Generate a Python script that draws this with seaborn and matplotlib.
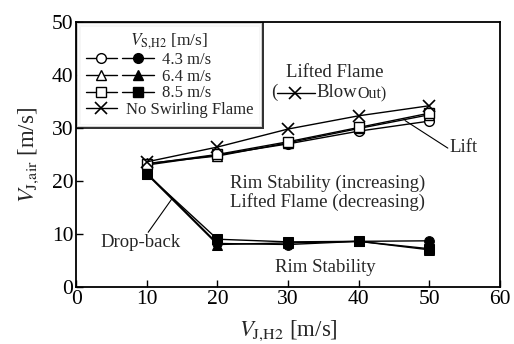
import matplotlib
matplotlib.use('Agg')
import matplotlib.pyplot as plt
import matplotlib.patheffects as pe
from matplotlib.lines import Line2D
from matplotlib.legend_handler import HandlerTuple, HandlerLine2D
import seaborn as sns

# V_J,H2 [m/s]
v_h2 = [10, 20, 30, 40, 50]

# lift limits (open markers) and drop-back limits (filled markers)
lift_43 = [23.0, 24.9, 27.0, 29.4, 31.3]
lift_64 = [23.3, 24.7, 27.2, 29.9, 32.5]
lift_85 = [23.2, 25.0, 27.4, 30.1, 32.8]
drop_43 = [21.5, 8.2, 8.0, 8.6, 8.7]
drop_64 = [21.3, 8.0, 8.3, 8.6, 7.0]
drop_85 = [21.3, 9.0, 8.5, 8.6, 7.2]
# blow out, no swirling flame
blow_no_swirl = [23.6, 26.4, 29.8, 32.3, 34.2]

swirl_labels = ["4.3 m/s", "6.4 m/s", "8.5 m/s"]
swirl_markers = ["o", "^", "s"]

sns.set_theme(style="white")
plt.rcParams['font.family'] = ['Liberation Serif', 'DejaVu Serif']
plt.rcParams['mathtext.fontset'] = 'stix'

fig = plt.figure(figsize=(5.14, 3.44), dpi=100)
ax = fig.add_axes([0.148, 0.166, 0.825, 0.770])

lifts = [lift_43, lift_64, lift_85]
drops = [drop_43, drop_64, drop_85]
ms = 7
for lift, drop, mk in zip(lifts, drops, swirl_markers):
    sns.lineplot(x=v_h2, y=lift, ax=ax, color="black", lw=1.0, marker=mk,
                 markersize=ms, markerfacecolor="white", markeredgecolor="black",
                 markeredgewidth=1.0)
    sns.lineplot(x=v_h2, y=drop, ax=ax, color="black", lw=1.0, marker=mk,
                 markersize=ms, markerfacecolor="black", markeredgecolor="black")
sns.lineplot(x=v_h2, y=blow_no_swirl, ax=ax, color="black", lw=1.0, marker="x",
             markersize=9, markeredgewidth=1.2, markeredgecolor="black")

ax.set_xlim(0, 60)
ax.set_ylim(0, 50)
ax.set_xticks(range(0, 61, 10))
ax.set_yticks(range(0, 51, 10))
ax.tick_params(direction="in", length=5, width=1, labelsize=15.5, colors="black",
               bottom=True, left=True, pad=2)
for s in ax.spines.values():
    s.set_color("black")
    s.set_linewidth(1.3)
ax.set_xlabel(r"$V_{\mathrm{J{,}H2}}$ [m/s]", fontsize=16.5, labelpad=7)
ax.set_ylabel(r"$V_{\mathrm{J{,}air}}$ [m/s]", fontsize=16.5, labelpad=8)

# annotations
fs = 13.5
ax.text(36.65, 40.4, "Lifted Flame", fontsize=fs, ha="center", va="center")
ax.text(27.6, 36.65, "(", fontsize=fs, ha="left", va="center")
ax.plot([28.5, 33.8], [36.65, 36.65], color="black", lw=1.0)
ax.plot([31.0], [36.65], marker="x", color="black", markersize=9, markeredgewidth=1.2)
ax.text(33.95, 36.65, "Blow", fontsize=fs, ha="left", va="center")
ax.text(39.8, 36.4, "Out)", fontsize=11.5, ha="left", va="center")

ax.plot([46.55, 52.6], [31.4, 26.2], color="black", lw=0.8)
ax.text(52.8, 26.3, "Lift", fontsize=fs, ha="left", va="center")

ax.text(21.8, 19.5, "Rim Stability (increasing)", fontsize=fs, ha="left", va="center")
ax.text(21.8, 16.0, "Lifted Flame (decreasing)", fontsize=fs, ha="left", va="center")

ax.plot([10.2, 13.6], [10.3, 16.7], color="black", lw=0.8)
ax.text(3.4, 8.4, "Drop-back", fontsize=fs, ha="left", va="center")
ax.text(28.2, 3.6, "Rim Stability", fontsize=fs, ha="left", va="center")


# legend: X row uses a short handle so its label starts right after it
class ShortHandler(HandlerLine2D):
    def __init__(self, frac, **kw):
        super().__init__(**kw)
        self.frac = frac

    def create_artists(self, legend, orig_handle, xdescent, ydescent, width,
                       height, fontsize, trans):
        w = width * self.frac
        y = height / 2 - ydescent
        line = Line2D([-xdescent, -xdescent + w], [y, y], color="black", lw=1.0)
        mark = Line2D([-xdescent + w / 2], [y], marker="x", color="black",
                      markersize=9, markeredgewidth=1.2, linestyle="none")
        line.set_transform(trans)
        mark.set_transform(trans)
        return [line, mark]


leg_fs = 12
hl = 4.1
tpad = 0.3
handles = []
for mk in swirl_markers:
    h_open = Line2D([], [], color="black", lw=1.0, marker=mk, markersize=ms,
                    markerfacecolor="white", markeredgecolor="black")
    h_fill = Line2D([], [], color="black", lw=1.0, marker=mk, markersize=ms,
                    markerfacecolor="black", markeredgecolor="black")
    handles.append((h_open, h_fill))
h_x = Line2D([], [], color="black", lw=1.0, marker="x")
handles.append(h_x)
labels = swirl_labels + ["No Swirling Flame"]
frac = (hl - tpad) / 2 / hl

leg = ax.legend(handles, labels,
                handler_map={tuple: HandlerTuple(ndivide=None, pad=tpad),
                             h_x: ShortHandler(frac)},
                title=r"$V_{\mathrm{S{,}H2}}$ [m/s]", loc="upper left", fontsize=leg_fs,
                title_fontsize=leg_fs + 0.5, handlelength=hl, handletextpad=0.5,
                labelspacing=0.04, borderpad=0.45, borderaxespad=0.12,
                fancybox=False, frameon=True)
# shrink the X row's handle box
col = leg._legend_handle_box.get_children()[0]
last_row = col.get_children()[-1]
last_row.get_children()[0].width = hl * leg_fs * frac

frame = leg.get_frame()
frame.set_edgecolor("black")
frame.set_path_effects([pe.Stroke(linewidth=3.6, foreground="black"),
                        pe.Stroke(linewidth=1.4, foreground="white"),
                        pe.Normal()])
frame.set_linewidth(0)

fig.savefig("out.png", dpi=100)
